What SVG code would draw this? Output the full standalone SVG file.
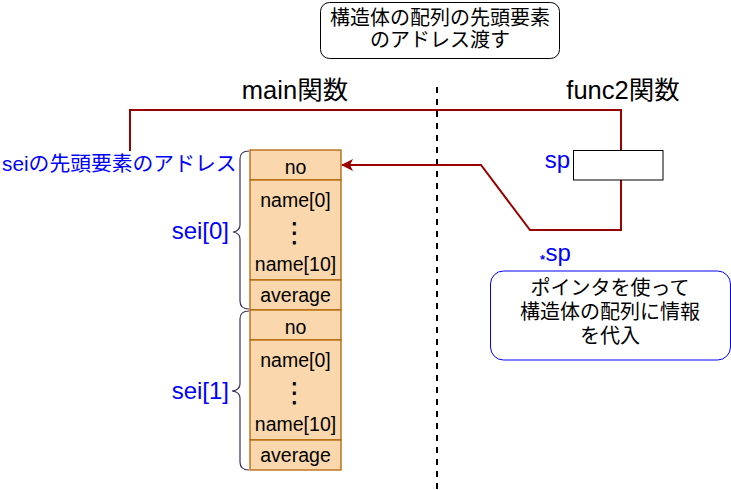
<svg xmlns="http://www.w3.org/2000/svg" width="731" height="490" viewBox="0 0 731 490">
<style>
text{font-family:"Liberation Sans","Noto Sans CJK JP",sans-serif;}
.cell{fill:#fad7ac;stroke:#b46504;stroke-width:1.3;}
.ct{font-size:19.5px;fill:#000;text-anchor:middle;}
.dots{font-family:"DejaVu Sans",sans-serif;font-size:28px;fill:#000;text-anchor:middle;}
.blue{fill:#0000ff;}
.brace{fill:none;stroke:#3b2f56;stroke-width:1.2;}
.red{fill:none;stroke:#990000;stroke-width:2;}
.note{font-size:20px;fill:#000;text-anchor:middle;}
</style>
<defs>
<marker id="ah" markerWidth="12" markerHeight="12" refX="11" refY="6" orient="auto" markerUnits="userSpaceOnUse">
<path d="M0,0 L12,6 L0,12 L3,6 Z" fill="#990000"/>
</marker>
</defs>
<rect width="731" height="490" fill="#fff"/>
<g id="title">
<rect x="320.5" y="2.5" width="239" height="56" rx="9" fill="#fff" stroke="#000" stroke-width="1"/>
<text class="note" x="440" y="25">構造体の配列の先頭要素</text>
<text class="note" x="440" y="47">のアドレス渡す</text>
</g>
<g id="headers">
<text x="295" y="99" font-size="25.5" text-anchor="middle">main関数</text>
<text x="623" y="99" font-size="25.5" text-anchor="middle">func2関数</text>
</g>
<g id="divider">
<line x1="437" y1="87" x2="437" y2="490" stroke="#000" stroke-width="2" stroke-dasharray="6,6"/>
</g>
<g id="connectors">
<polyline class="red" points="130,151 130,110 621,110 621,150"/>
<polyline class="red" points="621,180 621,230 530,230 481,165 342,165" marker-end="url(#ah)"/>
</g>
<g id="sei0">
<rect class="cell" x="250" y="150" width="91" height="30"/>
<text class="ct" x="295.5" y="174">no</text>
<rect class="cell" x="250" y="180" width="91" height="100"/>
<text class="ct" x="295.5" y="207">name[0]</text>
<text class="dots" x="294.5" y="242">⋮</text>
<text class="ct" x="295.5" y="271">name[10]</text>
<rect class="cell" x="250" y="280" width="91" height="30"/>
<text class="ct" x="295.5" y="302">average</text>
</g>
<g id="sei1">
<rect class="cell" x="250" y="310" width="91" height="30"/>
<text class="ct" x="295.5" y="334">no</text>
<rect class="cell" x="250" y="340" width="91" height="100"/>
<text class="ct" x="295.5" y="367">name[0]</text>
<text class="dots" x="294.5" y="402">⋮</text>
<text class="ct" x="295.5" y="431">name[10]</text>
<rect class="cell" x="250" y="440" width="91" height="30"/>
<text class="ct" x="295.5" y="462">average</text>
</g>
<g id="braces">
<path class="brace" d="M249,151 Q240,151 240,159 L240,225 Q240,231 233,232 Q240,233 240,239 L240,301 Q240,309 249,309"/>
<path class="brace" d="M249,311 Q240,311 240,319 L240,384 Q240,390 232,391 Q240,392 240,398 L240,462 Q240,470 249,470"/>
</g>
<g id="labels">
<text class="blue" x="2" y="171" font-size="20.8">seiの先頭要素のアドレス</text>
<text class="blue" x="229" y="239" font-size="24" text-anchor="end">sei[0]</text>
<text class="blue" x="229" y="399" font-size="24" text-anchor="end">sei[1]</text>
</g>
<g id="sp">
<rect x="573.5" y="150.5" width="89.5" height="29.5" fill="#fff" stroke="#000" stroke-width="1"/>
<text class="blue" x="570" y="168" font-size="24" text-anchor="end">sp</text>
</g>
<g id="starsp">
<text class="blue" x="540" y="260.5" font-size="24"><tspan font-size="13" dy="3" font-weight="bold">*</tspan><tspan dy="-3" dx="0.5">sp</tspan></text>
</g>
<g id="note2">
<rect x="490.5" y="271" width="240" height="89" rx="13" fill="#fff" stroke="#0000ff" stroke-width="1"/>
<text class="note" x="610" y="295">ポインタを使って</text>
<text class="note" x="610" y="319">構造体の配列に情報</text>
<text class="note" x="610" y="343">を代入</text>
</g>
</svg>
